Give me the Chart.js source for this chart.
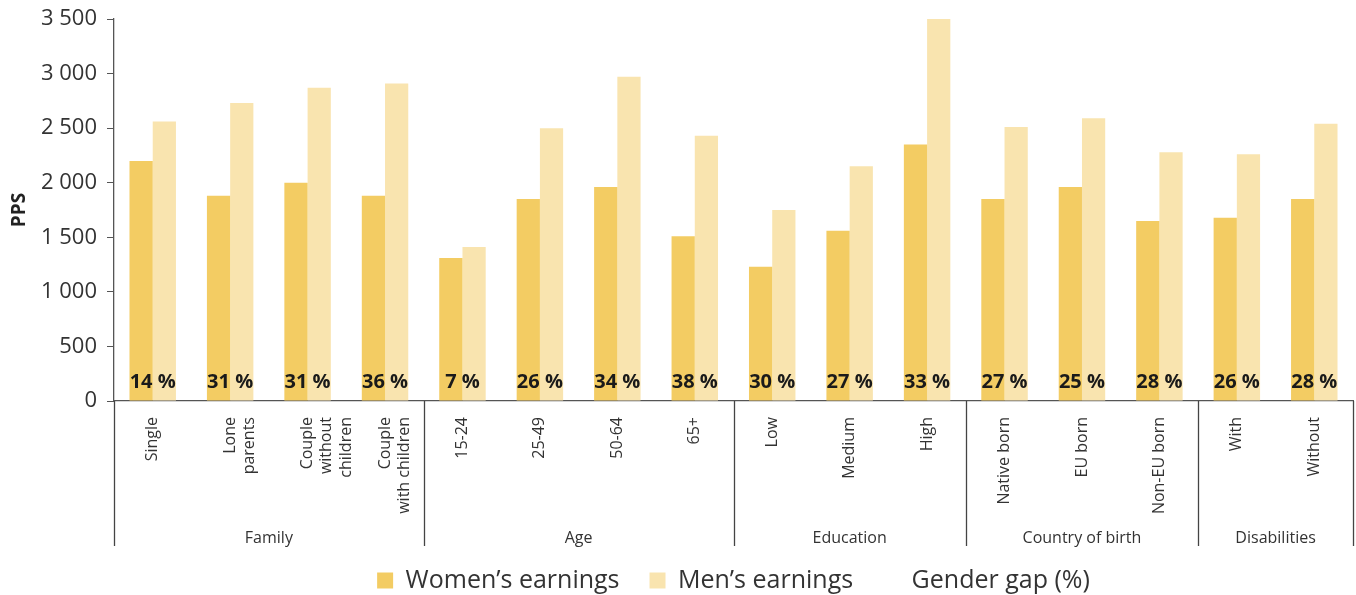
<!DOCTYPE html>
<html>
<head>
<meta charset="utf-8">
<script src="https://cdn.jsdelivr.net/npm/chart.js@4"></script>
<style>
    body { margin: 0; background: #fff; }
    #wrap { width: 1356px; height: 595px; position: relative; }
</style>
</head>
<body>
<div id="wrap"><canvas id="gapChart"></canvas></div>
<script>
// categories (multi-line labels as arrays)
const categories = [
    'Single', ['Lone', 'parents'], ['Couple', 'without', 'children'], ['Couple', 'with children'],
    '15-24', '25-49', '50-64', '65+',
    'Low', 'Medium', 'High',
    'Native born', 'EU born', 'Non-EU born',
    'With', 'Without'
];
const groups = ['Family', 'Age', 'Education', 'Country of birth', 'Disabilities'];
const groupSizes = [4, 4, 3, 3, 2];

const womenEarnings = [2200, 1880, 2000, 1880, 1310, 1850, 1960, 1510, 1230, 1560, 2350, 1850, 1960, 1650, 1680, 1850];
const menEarnings = [2560, 2730, 2870, 2910, 1410, 2500, 2970, 2430, 1750, 2150, 3500, 2510, 2590, 2280, 2260, 2540];
const genderGap = [14, 31, 31, 36, 7, 26, 34, 38, 30, 27, 33, 27, 25, 28, 26, 28];

const yTicks = [0, 500, 1000, 1500, 2000, 2500, 3000, 3500];

const FONT = '"Open Sans", "DejaVu Sans", sans-serif';

function formatNumber(v) {
    return String(v).replace(/\B(?=(\d{3})+(?!\d))/g, ' ');
}

// draws the group separators + group names under the tick labels
const groupAxisPlugin = {
    id: 'groupAxis',
    afterDraw(chart) {
        const ctx = chart.ctx;
        const x = chart.scales.x;
        const cw = x.width / categories.length;
        const top = x.top;
        const bottom = x.top + 145;

        ctx.save();
        ctx.strokeStyle = '#444';
        ctx.lineWidth = 1.3;
        let idx = 0;
        const edges = [0];
        groupSizes.forEach(n => { idx += n; edges.push(idx); });
        edges.forEach(e => {
            const px = Math.round(x.left + e * cw) + 0.5;
            ctx.beginPath();
            ctx.moveTo(px, top);
            ctx.lineTo(px, bottom);
            ctx.stroke();
        });

        ctx.fillStyle = '#333';
        ctx.font = '16px ' + FONT;
        ctx.textAlign = 'center';
        ctx.textBaseline = 'middle';
        groups.forEach((g, i) => {
            const mid = x.left + (edges[i] + edges[i + 1]) / 2 * cw;
            ctx.fillText(g, mid, x.top + 137);
        });
        ctx.restore();
    }
};

// gender gap labels sitting at the foot of each pair of bars
const gapLabelPlugin = {
    id: 'gapLabels',
    afterDatasetsDraw(chart) {
        const ctx = chart.ctx;
        const x = chart.scales.x;
        const y = chart.scales.y;
        ctx.save();
        ctx.fillStyle = '#1a1a1a';
        ctx.font = 'bold 20px ' + FONT;
        ctx.textAlign = 'center';
        ctx.textBaseline = 'middle';
        genderGap.forEach((g, i) => {
            ctx.fillText(g + ' %', x.getPixelForValue(i), y.getPixelForValue(0) - 19);
        });
        ctx.restore();
    }
};

const ctx = document.getElementById('gapChart').getContext('2d');
new Chart(ctx, {
    type: 'bar',
    data: {
        labels: categories,
        datasets: [{
            label: 'Women\u2019s earnings',
            data: womenEarnings,
            backgroundColor: '#F3CC63',
            borderWidth: 0,
            categoryPercentage: 0.6,
            barPercentage: 1
        }, {
            label: 'Men\u2019s earnings',
            data: menEarnings,
            backgroundColor: '#F9E4AF',
            borderWidth: 0,
            categoryPercentage: 0.6,
            barPercentage: 1
        }, {
            type: 'line',
            label: 'Gender gap (%)',
            data: genderGap,
            showLine: false,
            pointRadius: 0,
            backgroundColor: 'rgba(0,0,0,0)',
            borderColor: 'rgba(0,0,0,0)',
            borderWidth: 0
        }]
    },
    options: {
        responsive: true,
        maintainAspectRatio: false,
        animation: false,
        layout: {
            padding: { top: 19, right: 3, left: 0, bottom: -8 }
        },
        plugins: {
            legend: {
                position: 'bottom',
                fullSize: false,
                labels: {
                    font: { family: FONT, size: 25 },
                    color: '#333',
                    boxWidth: 16,
                    boxHeight: 16,
                    padding: 30
                }
            },
            tooltip: { enabled: false }
        },
        scales: {
            x: {
                grid: { display: false, drawTicks: false },
                border: { color: '#555', width: 1.3 },
                ticks: {
                    autoSkip: false,
                    maxRotation: 90,
                    minRotation: 90,
                    padding: 16,
                    color: '#333',
                    font: { family: FONT, size: 16 }
                },
                afterFit(scale) { scale.height = 137; }
            },
            y: {
                min: 0,
                max: 3500,
                afterBuildTicks(scale) { scale.ticks = yTicks.map(v => ({ value: v })); },
                grid: { drawOnChartArea: false, tickLength: 7, color: '#555' },
                border: { color: '#555', width: 1.3 },
                ticks: {
                    color: '#333',
                    padding: 10,
                    font: { family: FONT, size: 22 },
                    callback: v => formatNumber(v)
                },
                title: {
                    display: true,
                    text: 'PPS',
                    color: '#222',
                    font: { family: FONT, size: 19, weight: 'bold' },
                    padding: { top: 8, bottom: 0 }
                },
                afterFit(scale) {
                    scale.width = 114;
                    scale.paddingTop = 0;
                    scale.paddingBottom = 0;
                }
            }
        }
    },
    plugins: [groupAxisPlugin, gapLabelPlugin]
});
</script>
</body>
</html>
